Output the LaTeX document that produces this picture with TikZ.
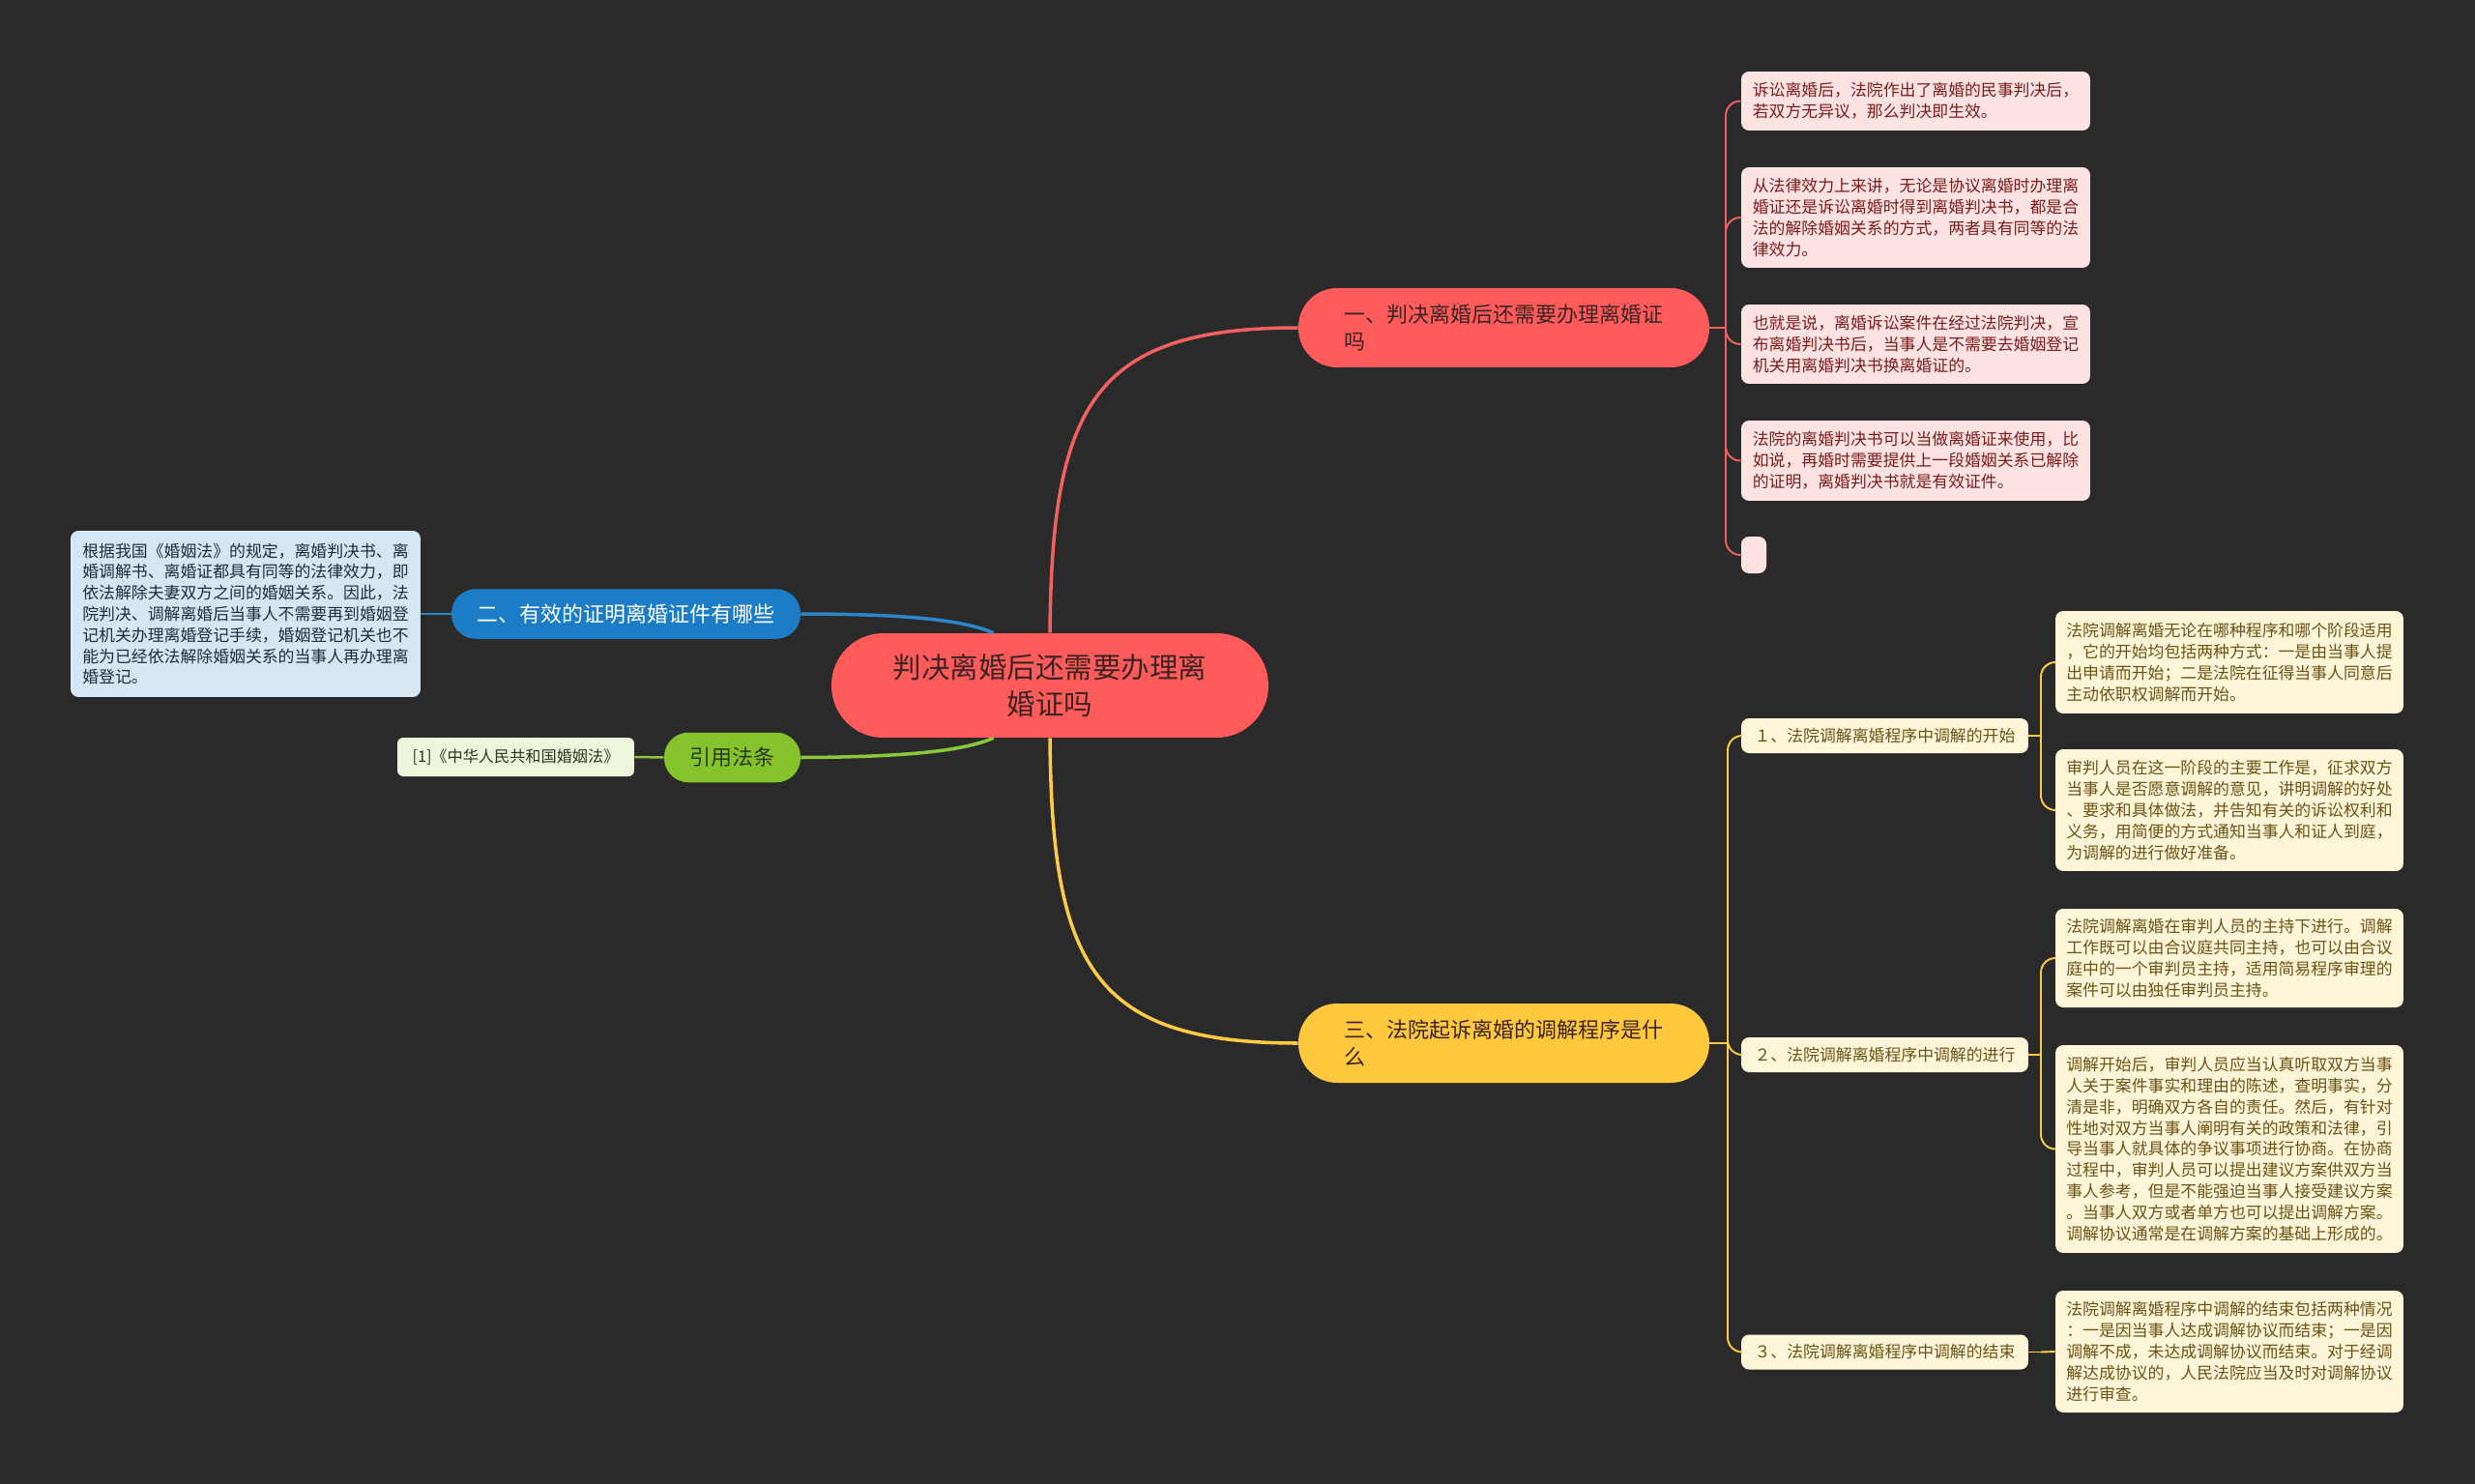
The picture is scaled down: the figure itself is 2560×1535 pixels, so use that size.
\documentclass[tikz,border=0pt]{standalone}
\usepackage{fontspec}
\setmainfont{Noto Sans CJK SC}
\usetikzlibrary{positioning}

\definecolor{bgdark}{HTML}{2A2A2A}
\definecolor{rootred}{HTML}{FF5B5B}
\definecolor{rootink}{HTML}{3C2323}
\definecolor{linered}{HTML}{F2605F}
\definecolor{pinkfill}{HTML}{FFE3E3}
\definecolor{pinkink}{HTML}{7A1C1C}
\definecolor{bluefill}{HTML}{1C7DC6}
\definecolor{lineblue}{HTML}{2A86C9}
\definecolor{paleblue}{HTML}{D5E7F5}
\definecolor{blueink}{HTML}{1F2C3A}
\definecolor{greenfill}{HTML}{84C42A}
\definecolor{linegreen}{HTML}{8BC63C}
\definecolor{palegreen}{HTML}{EEF5DD}
\definecolor{greenink}{HTML}{2C3516}
\definecolor{yellowfill}{HTML}{FFC83D}
\definecolor{lineyellow}{HTML}{FFCB45}
\definecolor{paleyellow}{HTML}{FFF5D9}
\definecolor{yellowink}{HTML}{6B5316}

\begin{document}
\begin{tikzpicture}[x=0.02cm, y=-0.02cm,
  every node/.style={inner sep=0pt, align=left},
  rootbox/.style={fill=rootred, text=rootink, rounded corners=1.07cm,
    minimum width=9.04cm, minimum height=2.16cm, align=center,
    font=\fontsize{16.8}{21.6}\selectfont},
  mainbox/.style={rounded corners=0.8cm, minimum width=8.5cm, minimum height=1.64cm,
    font=\fontsize{12.5}{16}\selectfont},
  pillbox/.style={rounded corners=0.5cm, minimum height=1.03cm,
    font=\fontsize{12.5}{16}\selectfont},
  leafbox/.style={rounded corners=0.16cm, minimum width=7.22cm,
    font=\fontsize{9.6}{12.4}\selectfont},
  redleaf/.style={leafbox, fill=pinkfill, text=pinkink},
  yellowleaf/.style={leafbox, fill=paleyellow, text=yellowink},
  subbox/.style={rounded corners=0.16cm, fill=paleyellow, text=yellowink,
    minimum width=5.94cm, minimum height=0.72cm, font=\fontsize{9.6}{12.4}\selectfont},
  thickred/.style={draw=linered, line width=2pt},
  thinred/.style={draw=linered, line width=1.1pt, rounded corners=0.3cm},
  thickyellow/.style={draw=lineyellow, line width=2pt},
  thinyellow/.style={draw=lineyellow, line width=1.1pt, rounded corners=0.3cm},
  ]
\useasboundingbox[fill=bgdark] (0,0) rectangle (2560,1535);

% 中心主题
\node[rootbox] (root) at (1086,709) {判决离婚后还需要办理离\\婚证吗};

% 一、右上
\node[mainbox, fill=rootred, text=rootink] (b1) at (1555.5,339) {一、判决离婚后还需要办理离婚证\\吗};
\node[redleaf, minimum height=1.22cm] (r1) at (1981.5,104.5) {诉讼离婚后，法院作出了离婚的民事判决后，\\若双方无异议，那么判决即生效。};
\node[redleaf, minimum height=2.08cm] (r2) at (1981.5,225) {从法律效力上来讲，无论是协议离婚时办理离\\婚证还是诉讼离婚时得到离婚判决书，都是合\\法的解除婚姻关系的方式，两者具有同等的法\\律效力。};
\node[redleaf, minimum height=1.64cm] (r3) at (1981.5,356) {也就是说，离婚诉讼案件在经过法院判决，宣\\布离婚判决书后，当事人是不需要去婚姻登记\\机关用离婚判决书换离婚证的。};
\node[redleaf, minimum height=1.66cm] (r4) at (1981.5,476.5) {法院的离婚判决书可以当做离婚证来使用，比\\如说，再婚时需要提供上一段婚姻关系已解除\\的证明，离婚判决书就是有效证件。};
\node[redleaf, minimum width=0.52cm, minimum height=0.76cm] (r5) at (1814,574) {};

% 二、左侧
\node[pillbox, fill=bluefill, text=white, minimum width=7.22cm] (b2) at (647.5,635) {二、有效的证明离婚证件有哪些};
\node[leafbox, fill=paleblue, text=blueink, minimum width=7.24cm, minimum height=3.44cm] (bl) at (254,635) {根据我国《婚姻法》的规定，离婚判决书、离\\婚调解书、离婚证都具有同等的法律效力，即\\依法解除夫妻双方之间的婚姻关系。因此，法\\院判决、调解离婚后当事人不需要再到婚姻登\\记机关办理离婚登记手续，婚姻登记机关也不\\能为已经依法解除婚姻关系的当事人再办理离\\婚登记。};

% 引用法条
\node[pillbox, fill=greenfill, text=greenink, minimum width=2.82cm] (b4) at (757.5,783.5) {引用法条};
\node[leafbox, fill=palegreen, text=greenink, minimum width=4.9cm, minimum height=0.8cm, rounded corners=0.12cm, font=\fontsize{9.2}{12}\selectfont] (cl) at (533.5,783) {[1]《中华人民共和国婚姻法》};

% 三、右下
\node[mainbox, fill=yellowfill, text=rootink] (b3) at (1555.5,1079) {三、法院起诉离婚的调解程序是什\\么};
\node[subbox] (s1) at (1949.5,761) {１、法院调解离婚程序中调解的开始};
\node[subbox] (s2) at (1949.5,1091) {２、法院调解离婚程序中调解的进行};
\node[subbox] (s3) at (1949.5,1398.5) {３、法院调解离婚程序中调解的结束};
\node[yellowleaf, minimum width=7.2cm, minimum height=2.12cm] (y1) at (2306,685) {法院调解离婚无论在哪种程序和哪个阶段适用\\，它的开始均包括两种方式：一是由当事人提\\出申请而开始；二是法院在征得当事人同意后\\主动依职权调解而开始。};
\node[yellowleaf, minimum width=7.2cm, minimum height=2.52cm] (y2) at (2306,838) {审判人员在这一阶段的主要工作是，征求双方\\当事人是否愿意调解的意见，讲明调解的好处\\、要求和具体做法，并告知有关的诉讼权利和\\义务，用简便的方式通知当事人和证人到庭，\\为调解的进行做好准备。};
\node[yellowleaf, minimum width=7.2cm, minimum height=2.04cm] (y3) at (2306,991) {法院调解离婚在审判人员的主持下进行。调解\\工作既可以由合议庭共同主持，也可以由合议\\庭中的一个审判员主持，适用简易程序审理的\\案件可以由独任审判员主持。};
\node[yellowleaf, minimum width=7.2cm, minimum height=4.3cm] (y4) at (2306,1188.5) {调解开始后，审判人员应当认真听取双方当事\\人关于案件事实和理由的陈述，查明事实，分\\清是非，明确双方各自的责任。然后，有针对\\性地对双方当事人阐明有关的政策和法律，引\\导当事人就具体的争议事项进行协商。在协商\\过程中，审判人员可以提出建议方案供双方当\\事人参考，但是不能强迫当事人接受建议方案\\。当事人双方或者单方也可以提出调解方案。\\调解协议通常是在调解方案的基础上形成的。};
\node[yellowleaf, minimum width=7.2cm, minimum height=2.52cm] (y5) at (2306,1398) {法院调解离婚程序中调解的结束包括两种情况\\：一是因当事人达成调解协议而结束；一是因\\调解不成，未达成调解协议而结束。对于经调\\解达成协议的，人民法院应当及时对调解协议\\进行审查。};

% 连线
\draw[thickred] (root.north) .. controls (1088,420) and (1130,339) .. (b1.west);
\draw[thickyellow] (root.south) .. controls (1088,998) and (1130,1079) .. (b3.west);
\draw[draw=lineblue, line width=2pt] (b2.east) .. controls (950,635) and (1000,643) .. (root.137);
\draw[draw=linegreen, line width=2pt] (b4.east) .. controls (950,783) and (1000,775) .. (root.223);
\draw[draw=lineblue, line width=1.4pt] (bl.east) -- (b2.west);
\draw[draw=linegreen, line width=1.4pt] (cl.east) -- (b4.west);

\coordinate (rt) at (1785,339);
\draw[thinred] (b1.east) -- (rt);
\foreach \n in {r1,r2,r3,r4,r5}
  \draw[thinred] (rt) |- (\n.west);

\coordinate (yt) at (1787,1079);
\draw[thinyellow] (b3.east) -- (yt);
\foreach \n in {s1,s2,s3}
  \draw[thinyellow] (yt) |- (\n.west);

\coordinate (t1) at (2111,761);
\coordinate (t2) at (2111,1091);
\coordinate (t3) at (2111,1398.5);
\draw[thinyellow] (s1.east) -- (t1);
\draw[thinyellow] (s2.east) -- (t2);
\draw[thinyellow] (s3.east) -- (t3);
\draw[thinyellow] (t1) |- (y1.west);
\draw[thinyellow] (t1) |- (y2.west);
\draw[thinyellow] (t2) |- (y3.west);
\draw[thinyellow] (t2) |- (y4.west);
\draw[thinyellow] (t3) -- (y5.west);
\end{tikzpicture}
\end{document}
